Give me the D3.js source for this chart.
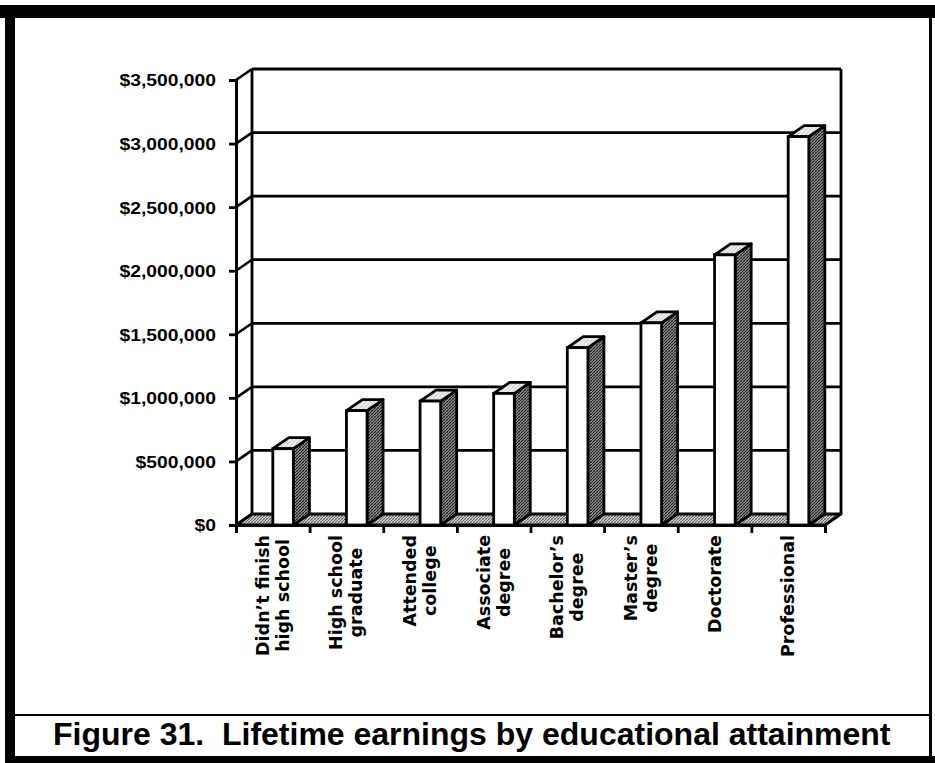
<!DOCTYPE html>
<html>
<head>
<meta charset="utf-8">
<script src="https://cdn.jsdelivr.net/npm/d3@7"></script>
<style>
  body { margin: 0; background: #fff; }
  svg { display: block; }
</style>
</head>
<body>
<svg id="chart" width="935" height="763"></svg>
<script>
// Education levels (each entry is the list of label lines under the column)
const categories = [
  ["Didn’t finish", "high school"],
  ["High school", "graduate"],
  ["Attended", "college"],
  ["Associate", "degree"],
  ["Bachelor’s", "degree"],
  ["Master’s", "degree"],
  ["Doctorate"],
  ["Professional"]
];
// Lifetime earnings in dollars
const earnings = [600000, 900000, 975000, 1035000, 1395000, 1590000, 2125000, 3055000];
const yTicks = [0, 500000, 1000000, 1500000, 2000000, 2500000, 3000000, 3500000];
const caption = "Figure 31.  Lifetime earnings by educational attainment";

const svg = d3.select("#chart");
const keys = categories.map(c => c.join(" "));

// 3-D box geometry: front plane plus an oblique depth offset
const front = { left: 236, right: 825, top: 80, bottom: 525 };
const depth = { dx: 16, dy: -11 };

const x = d3.scaleBand().domain(keys).range([front.left, front.right]).paddingInner(0).paddingOuter(0);
const xEdges = d3.scaleLinear().domain([0, keys.length]).range([front.left, front.right]);
const y = d3.scaleLinear().domain([0, 3500000]).range([front.bottom, front.top]);

// Fill patterns for the shaded faces
const defs = svg.append("defs");
function hatch(id, bg, ink, size, w) {
  const p = defs.append("pattern").attr("id", id).attr("patternUnits", "userSpaceOnUse")
    .attr("width", size).attr("height", size);
  p.append("rect").attr("width", size).attr("height", size).attr("fill", bg);
  p.append("path").attr("d", `M0,${size} L${size},0 M-1,1 L1,-1 M${size - 1},${size + 1} L${size + 1},${size - 1}`)
    .attr("stroke", ink).attr("stroke-width", w);
  p.append("path").attr("d", `M0,0 L${size},${size}`).attr("stroke", ink).attr("stroke-width", w * 0.6).attr("opacity", 0.7);
}
hatch("sideFill", "#8c8c8c", "#1e1e1e", 3, 1.0);
hatch("floorFill", "#cfcfcf", "#4a4a4a", 3, 0.8);
hatch("topFill", "#f0f0f0", "#b5b5b5", 4, 0.6);

const ink = "#000";

// Back wall gridlines
const backLeft = front.left + depth.dx, backRight = front.right + depth.dx;
svg.append("g").selectAll("line").data(yTicks.filter(d => d > 0)).join("line")
  .attr("x1", backLeft).attr("x2", backRight)
  .attr("y1", d => y(d) + depth.dy).attr("y2", d => y(d) + depth.dy)
  .attr("stroke", ink).attr("stroke-width", 2.8);

// Connectors across the side wall from axis ticks to gridlines
svg.append("g").selectAll("line").data(yTicks).join("line")
  .attr("x1", front.left).attr("x2", backLeft)
  .attr("y1", d => y(d)).attr("y2", d => y(d) + depth.dy)
  .attr("stroke", ink).attr("stroke-width", 2.6);

// Back wall verticals
svg.append("g").selectAll("line").data([backLeft, backRight]).join("line")
  .attr("x1", d => d).attr("x2", d => d)
  .attr("y1", y(3500000) + depth.dy).attr("y2", y(0) + depth.dy)
  .attr("stroke", ink).attr("stroke-width", 2.8);

// Floor
const floorPts = [
  [front.left, y(0)], [backLeft, y(0) + depth.dy],
  [backRight, y(0) + depth.dy], [front.right, y(0)]
];
svg.append("polygon").attr("points", floorPts.map(p => p.join(",")).join(" "))
  .attr("fill", "url(#floorFill)").attr("stroke", ink).attr("stroke-width", 2.8)
  .attr("stroke-linejoin", "round");

// Columns
const barW = x.bandwidth() * 0.28;
const barX = k => x(k) + x.bandwidth() * 0.5;
const bars = svg.append("g").selectAll("g").data(earnings.map((v, i) => ({ k: keys[i], v }))).join("g");
const y0 = y(0);
const pts = arr => arr.map(p => p.join(",")).join(" ");
bars.append("polygon") // side face
  .attr("points", d => {
    const x0 = barX(d.k) + barW, yv = y(d.v);
    return pts([[x0, yv], [x0 + depth.dx, yv + depth.dy], [x0 + depth.dx, y0 + depth.dy], [x0, y0]]);
  })
  .attr("fill", "url(#sideFill)").attr("stroke", ink).attr("stroke-width", 2.8).attr("stroke-linejoin", "round");
bars.append("polygon") // top face
  .attr("points", d => {
    const x0 = barX(d.k), yv = y(d.v);
    return pts([[x0, yv], [x0 + depth.dx, yv + depth.dy], [x0 + barW + depth.dx, yv + depth.dy], [x0 + barW, yv]]);
  })
  .attr("fill", "url(#topFill)").attr("stroke", ink).attr("stroke-width", 2.8).attr("stroke-linejoin", "round");
bars.append("rect") // front face
  .attr("x", d => barX(d.k)).attr("y", d => y(d.v))
  .attr("width", barW).attr("height", d => y0 - y(d.v))
  .attr("fill", "#fff").attr("stroke", ink).attr("stroke-width", 2.8);

// Value axis
const stretch = 1.17;
const yAxis = svg.append("g").attr("transform", `translate(${front.left},0)`)
  .call(d3.axisLeft(y).tickValues(yTicks).tickSizeOuter(0).tickSize(7)
    .tickFormat(d => "$" + d3.format(",")(d)));
yAxis.select(".domain").attr("stroke", ink).attr("stroke-width", 3);
yAxis.selectAll(".tick line").attr("stroke", ink).attr("stroke-width", 2.8);
yAxis.selectAll(".tick text")
  .attr("x", -20 / stretch).attr("transform", `scale(${stretch},1)`)
  .attr("dy", "0.36em")
  .attr("fill", ink)
  .style("font-family", "'Liberation Sans', Arial, sans-serif")
  .style("font-weight", "bold").style("font-size", "16.5px");

// Category axis (front edge of the floor)
const xAxis = svg.append("g").attr("transform", `translate(0,${y0})`)
  .call(d3.axisBottom(xEdges).tickValues(d3.range(keys.length + 1)).tickSizeOuter(0).tickSize(8).tickFormat(""));
xAxis.select(".domain").attr("stroke", ink).attr("stroke-width", 3);
xAxis.selectAll(".tick line").attr("stroke", ink).attr("stroke-width", 2.8);

// Rotated category labels
const labelTop = 535, lineGap = 20;
categories.forEach((lines, i) => {
  const g = svg.append("g");
  const cx = x(keys[i]) + x.bandwidth() / 2;
  const texts = lines.map((t, j) => g.append("text")
    .text(t)
    .attr("text-anchor", "middle")
    .style("font-family", "'DejaVu Sans', Verdana, sans-serif")
    .style("font-weight", "bold").style("font-size", "17.5px")
    .attr("fill", ink)
    .datum(cx + 6 + (j - (lines.length - 1) / 2) * lineGap));
  const longest = d3.max(texts, t => t.node().getComputedTextLength());
  const cy = labelTop + longest / 2;
  texts.forEach(t => t.attr("transform", d => `translate(${d},${cy}) rotate(-90)`));
});

// Frame and caption box
svg.append("rect").attr("x", 0).attr("y", 5).attr("width", 935).attr("height", 13).attr("fill", ink);
svg.append("rect").attr("x", 5).attr("y", 5).attr("width", 10).attr("height", 758).attr("fill", ink);
svg.append("rect").attr("x", 5).attr("y", 756).attr("width", 930).attr("height", 7).attr("fill", ink);
svg.append("rect").attr("x", 929).attr("y", 5).attr("width", 3).attr("height", 758).attr("fill", ink);
svg.append("line").attr("x1", 15).attr("x2", 930).attr("y1", 715).attr("y2", 715)
  .attr("stroke", ink).attr("stroke-width", 2.2);

svg.append("text").text(caption)
  .attr("x", 53).attr("y", 745)
  .attr("fill", ink)
  .attr("xml:space", "preserve").style("white-space", "pre")
  .style("font-family", "'Liberation Sans', Arial, sans-serif")
  .style("font-weight", "bold").style("font-size", "32px");
</script>
</body>
</html>
